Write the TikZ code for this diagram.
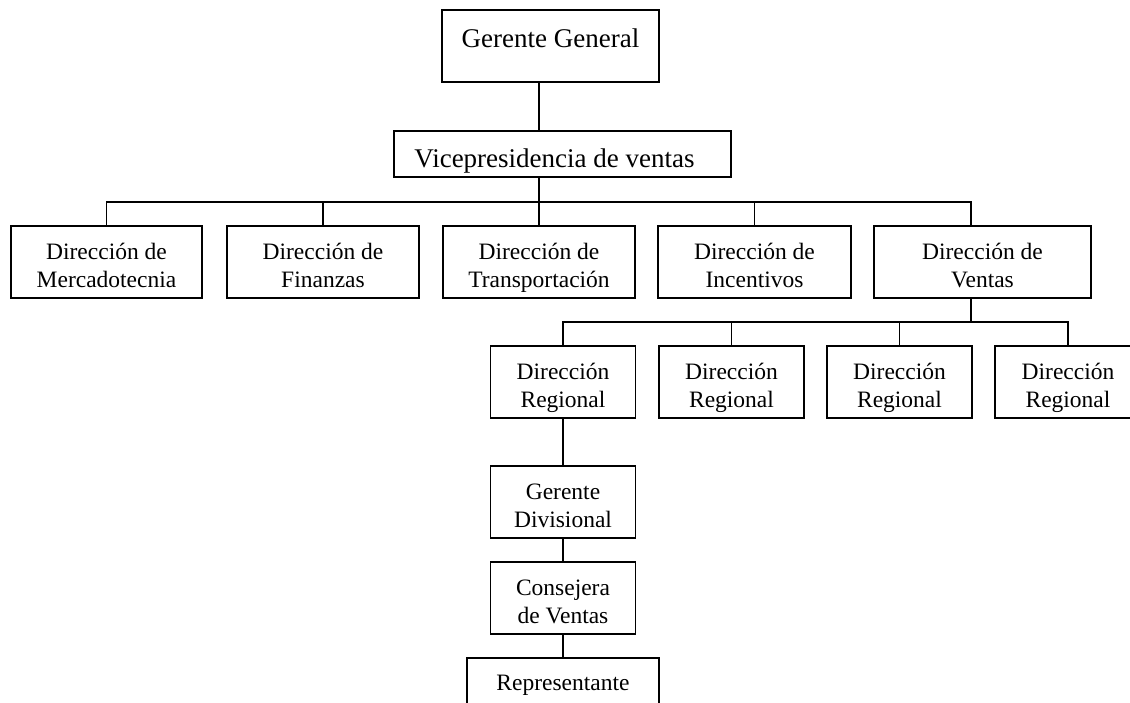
\documentclass[tikz,border=0pt]{standalone}
\usepackage{fontspec}
\setmainfont{Liberation Serif}
\newcommand{\boxline}[1]{\rule[-3pt]{0pt}{28pt}\smash{#1}}
\begin{document}
\begin{tikzpicture}[x=1pt,y=-1pt,
  box/.style={draw, line width=1.5pt, rectangle, inner sep=0pt, align=center,
              minimum height=72pt, font=\fontsize{23.5}{28}\selectfont},
  conn/.style={line width=1.5pt}]
\useasboundingbox (0,0) rectangle (1130,702);
% top levels
\node[box, minimum width=217pt, font=\fontsize{27}{32}\selectfont,
      text height=20pt, text depth=18pt] (gg) at (550.5,46) {Gerente General};
\node[box, minimum width=337pt, minimum height=46pt, font=\fontsize{27}{32}\selectfont,
      text height=26pt, text depth=0pt] (vp) at (562.5,154) {\smash{Vicepresidencia de ventas}\hspace*{16pt}};
% direcciones
\node[box, minimum width=191pt] (d1) at (106.5,262) {\boxline{Dirección de}\\\boxline{Mercadotecnia}};
\node[box, minimum width=192pt] (d2) at (323,262) {\boxline{Dirección de}\\\boxline{Finanzas}};
\node[box, minimum width=192pt] (d3) at (539,262) {\boxline{Dirección de}\\\boxline{Transportación}};
\node[box, minimum width=193pt] (d4) at (754.5,262) {\boxline{Dirección de}\\\boxline{Incentivos}};
\node[box, minimum width=217pt] (d5) at (982.5,262) {\boxline{Dirección de}\\\boxline{Ventas}};
% regionales
\node[box, minimum width=145pt] (r1) at (563,382) {\boxline{Dirección}\\\boxline{Regional}};
\node[box, minimum width=145pt] (r2) at (731.5,382) {\boxline{Dirección}\\\boxline{Regional}};
\node[box, minimum width=145pt] (r3) at (899.5,382) {\boxline{Dirección}\\\boxline{Regional}};
\node[box, minimum width=146pt] (r4) at (1068,382) {\boxline{Dirección}\\\boxline{Regional}};
% lower chain
\node[box, minimum width=145pt] (gd) at (563,502) {\boxline{Gerente}\\\boxline{Divisional}};
\node[box, minimum width=145pt] (cv) at (563,598) {\boxline{Consejera}\\\boxline{de Ventas}};
\node[box, minimum width=192pt, text height=25pt, text depth=33pt] (rep) at (563,694) {\smash{Representante}};
% connectors
\coordinate (j1) at (539,202);
\coordinate (j5) at (971,202);
\coordinate (k) at (971,322);
\draw[conn] (gg.south -| j1) -- (vp.north -| j1);
\draw[conn] (vp.south -| j1) -- (j1);
\draw[conn] (d1.north) |- (j5) -- (d5.north -| j5);
\foreach \n in {d2,d3,d4} \draw[conn] (\n.north) -- (\n.north |- j1);
\draw[conn] (d5.south -| k) -- (k);
\draw[conn] (r1.north) |- (k) -| (r4.north);
\foreach \n in {r2,r3} \draw[conn] (\n.north) -- (\n.north |- k);
\draw[conn] (r1.south) -- (gd.north);
\draw[conn] (gd.south) -- (cv.north);
\draw[conn] (cv.south) -- (rep.north);
\end{tikzpicture}
\end{document}
